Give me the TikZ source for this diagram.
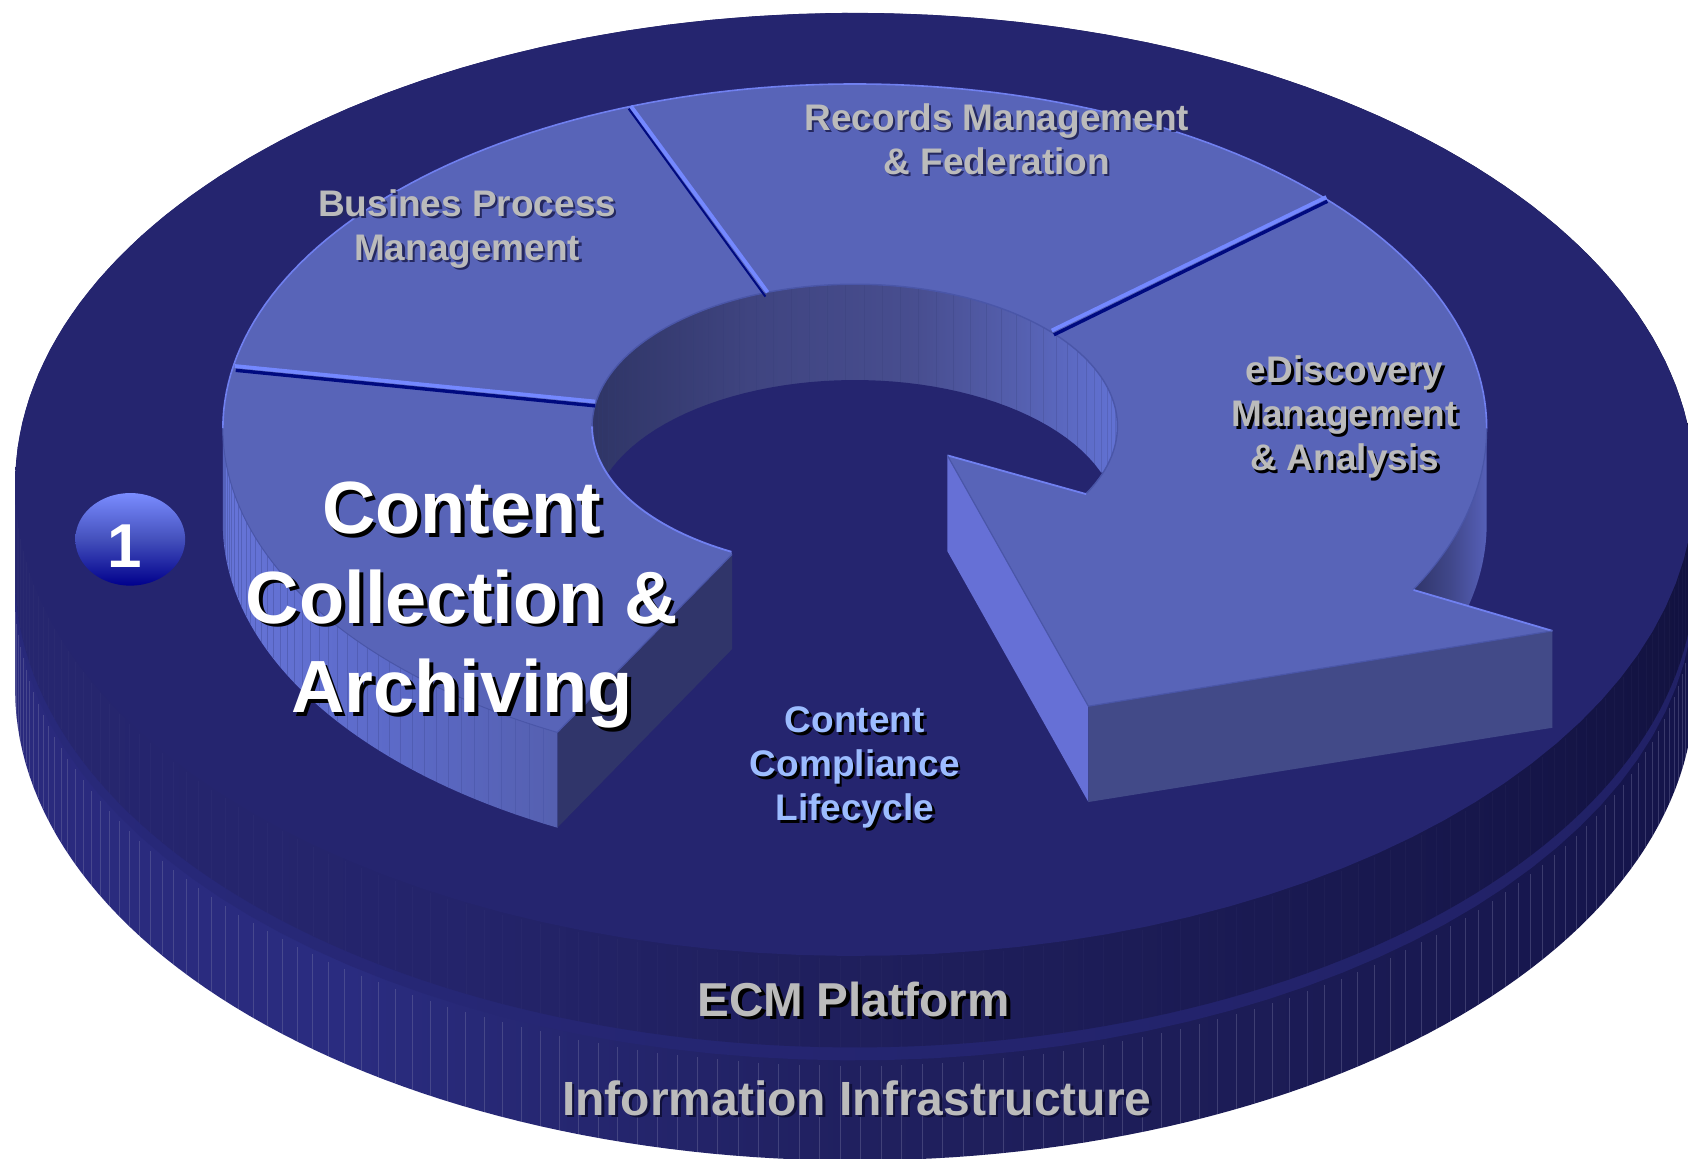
\documentclass[tikz,border=0pt]{standalone}
\usepackage{fontspec}
\setmainfont{Liberation Sans}
\definecolor{disk}{HTML}{25256F}
\definecolor{ringtop}{HTML}{5864B8}
\definecolor{ringhi}{HTML}{7080F0}
\definecolor{ringlo}{HTML}{4A56A8}
\definecolor{sepdark}{HTML}{000A80}
\definecolor{sepfore}{HTML}{7488FF}
\definecolor{labelgray}{HTML}{BBBBBB}
\definecolor{labelblue}{HTML}{9CBCFF}
\definecolor{tailcut}{HTML}{30356A}
\definecolor{headleft}{HTML}{6670D6}
\definecolor{headfront}{HTML}{424A88}
\definecolor{shadowdark}{HTML}{10103A}
\definecolor{sa}{HTML}{2A2A7D}\definecolor{sb}{HTML}{2A2C80}\definecolor{sc}{HTML}{25266F}\definecolor{sd}{HTML}{20205F}\definecolor{se}{HTML}{1C1C56}\definecolor{sf}{HTML}{14144A}
\definecolor{ea}{HTML}{26266F}\definecolor{eb}{HTML}{24246B}\definecolor{ec}{HTML}{20205F}\definecolor{ed}{HTML}{1C1C56}\definecolor{ee}{HTML}{17174C}\definecolor{ef}{HTML}{121240}
\definecolor{ta}{HTML}{6674D8}\definecolor{tb}{HTML}{5C6AC8}\definecolor{tc}{HTML}{5560B0}
\definecolor{ia}{HTML}{2F3566}\definecolor{ib}{HTML}{3F4480}\definecolor{ic}{HTML}{484E90}\definecolor{id}{HTML}{5560B0}\definecolor{ie}{HTML}{6272D4}
\definecolor{ra}{HTML}{30356A}\definecolor{rb}{HTML}{40478A}\definecolor{rc}{HTML}{5660B8}
\definecolor{ba}{HTML}{00008C}\definecolor{bb}{HTML}{4450BC}\definecolor{bc}{HTML}{7A8CFF}
\definecolor{rl}{HTML}{28297A}\definecolor{rr}{HTML}{212166}
\pgfdeclarehorizontalshading{slablow}{100bp}{color(0bp)=(sa);color(25bp)=(sa);color(35bp)=(sb);color(42bp)=(sc);color(50bp)=(sd);color(62bp)=(se);color(75bp)=(sf);color(100bp)=(sf)}
\pgfdeclarehorizontalshading{slabecm}{100bp}{color(0bp)=(ea);color(25bp)=(ea);color(38bp)=(eb);color(47bp)=(ec);color(58bp)=(ed);color(68bp)=(ee);color(75bp)=(ef);color(100bp)=(ef)}
\pgfdeclarehorizontalshading{rimfill}{100bp}{color(0bp)=(rl);color(25bp)=(rl);color(75bp)=(rr);color(100bp)=(rr)}
\pgfdeclarehorizontalshading{tailwall}{100bp}{color(0bp)=(ta);color(25bp)=(ta);color(50bp)=(tb);color(75bp)=(tc);color(100bp)=(tc)}
\pgfdeclarehorizontalshading{innerwall}{100bp}{color(0bp)=(ia);color(25bp)=(ia);color(40bp)=(ib);color(56bp)=(ic);color(66bp)=(id);color(75bp)=(ie);color(100bp)=(ie)}
\pgfdeclarehorizontalshading{rightwall}{100bp}{color(0bp)=(ra);color(25bp)=(ra);color(50bp)=(rb);color(75bp)=(rc);color(100bp)=(rc)}
\pgfdeclareverticalshading{badgefill}{100bp}{color(0bp)=(ba);color(25bp)=(ba);color(50bp)=(bb);color(75bp)=(bc);color(100bp)=(bc)}
\newcommand{\earc}[6]{plot[domain=#5:#6,samples=120,variable=\vv] ({#1+#3*cos(\vv)},{#2+#4*sin(\vv)})}
\newcommand{\learc}[6]{-- plot[domain=#5:#6,samples=120,variable=\vv] ({#1+#3*cos(\vv)},{#2+#4*sin(\vv)})}
\newcommand{\shtext}[9]{%
  \node[labeltext,text=#5,font={\fontsize{#7}{#8}\selectfont\bfseries}] (#1-shadow) at ({#2+#6},{#3+#6}) {#9};
  \node[labeltext,text=#4,font={\fontsize{#7}{#8}\selectfont\bfseries}] (#1) at (#2,#3) {#9};}
\tikzset{labeltext/.style={align=center,inner sep=0pt,outer sep=0pt}}
\begin{document}
\begin{tikzpicture}[x=0.53827pt,y=-0.53827pt,line join=round]
\useasboundingbox (0,0) rectangle (1568,1075.7);
\clip (0,0) rectangle (1568,1075.7);
% lower slab
\shade[shading=slablow] \earc{794}{640}{780}{438}{180}{0} \learc{794}{545}{780}{438}{0}{-180} -- cycle;
\foreach \ang in {1.4,2.8,...,179}
  \draw[line width=.3pt,color=white!45!disk,opacity=.32] ({794+780*cos(\ang)},{552+438*sin(\ang)}) -- ({794+780*cos(\ang)},{640+438*sin(\ang)});
\shade[shading=rimfill] \earc{794}{547}{780}{438}{0}{360} -- cycle;
% ECM slab
\shade[shading=slabecm] \earc{794}{535}{780}{438}{180}{0} \learc{794}{450}{780}{438}{0}{-180} -- cycle;
\foreach \ang in {1.4,2.8,...,179}
  \draw[line width=.25pt,color=white!40!disk,opacity=.05] ({794+780*cos(\ang)},{452+438*sin(\ang)}) -- ({794+780*cos(\ang)},{535+438*sin(\ang)});
% top of platform
\fill[disk] \earc{794}{450}{780}{438}{0}{360} -- cycle;
% inner wall and floor of the hole
\shade[shading=innerwall] \earc{794}{396}{244}{132}{161}{379} -- cycle;
\foreach \ang in {184,188,...,356}
  \draw[line width=.25pt,color=ringlo!70!black,opacity=.22] ({794+244*cos(\ang)},{396+132*sin(\ang)}) -- ({794+244*cos(\ang)},{485+132*sin(\ang)});
\begin{scope}
  \clip \earc{794}{396}{244}{132}{0}{360} -- cycle;
  \fill[disk] \earc{794}{485}{244}{132}{0}{360} -- cycle;
\end{scope}
% tail outer wall and cut face
\shade[shading=tailwall] \earc{794}{398}{587}{320}{180}{118.05} \learc{794}{486.5}{587}{320}{118.05}{180} -- cycle;
\foreach \ang in {119.5,121,...,179}
  \draw[line width=.25pt,color=ringlo,opacity=.6] ({794+587*cos(\ang)},{398+320*sin(\ang)}) -- ({794+587*cos(\ang)},{486.5+320*sin(\ang)});
\fill[tailcut] (680,515) -- (680,603) -- (518,768.5) -- (518,680) -- cycle;
% wall behind the arrow head
\shade[shading=rightwall] \earc{794}{398}{587}{320}{27.9}{0} \learc{794}{486.5}{587}{320}{0}{27.9} -- cycle;
% arrow head faces
\fill[headleft] (880,423) -- (1011,656) -- (1011,745) -- (880,512) -- cycle;
\fill[headfront] (1011,656) -- (1442,586) -- (1442,676) -- (1011,745) -- cycle;
% top of the ring with arrow head
\fill[ringtop] (680,515) \learc{794}{396}{244}{132}{118}{388.4} -- (880,423) -- (1011,656) -- (1442,586) -- (1313,548) \learc{794}{398}{587}{320}{27.9}{-241.95} -- cycle;
% edges
\draw[ringlo,line width=.7pt] \earc{794}{396}{244}{132}{180}{388.4};
\draw[ringhi,line width=.9pt] \earc{794}{396}{244}{132}{118}{180};
\draw[ringlo,line width=.6pt] \earc{794}{398}{587}{320}{27.9}{0};
\draw[ringhi,line width=.8pt] \earc{794}{398}{587}{320}{0}{-180};
\draw[ringlo,line width=.5pt] \earc{794}{398}{587}{320}{118.05}{180};
\draw[ringlo,line width=.6pt] (680,515) -- (518,680);
\draw[ringhi,line width=.9pt] (880,423) -- (1009,459);
\draw[ringhi,line width=.9pt] (1313,548) -- (1442,586);
\draw[ringlo,line width=.6pt] (880,423) -- (1011,656) -- (1442,586);
% separators
\draw[sepdark,line width=1.7pt] (219,344) -- (553,377);
\draw[sepfore,line width=1.9pt] (218,340) -- (553,373);
\draw[sepdark,line width=1pt] (584,101) -- (711,275.5);
\draw[sepfore,line width=1.9pt] (586,98.5) -- (713,271.5);
\draw[sepdark,line width=1.7pt] (1233,187) -- (979,311);
\draw[sepfore,line width=1.9pt] (1232,183) -- (977,307);
% badge
\shade[shading=badgefill] \earc{121}{501}{51}{43}{0}{360} -- cycle;
\node[labeltext,text=white,font={\fontsize{31}{31}\selectfont\bfseries}] (badge) at (116,507) {1};
% labels
\shtext{main}{429}{562}{white}{black}{3.5}{37}{44.7}{Content\\Collection \&\\Archiving}
\shtext{records}{926}{129}{labelgray}{shadowdark!70!ringtop}{2}{18.5}{22}{Records Management\\\& Federation}
\shtext{bpm}{434}{213}{labelgray}{shadowdark!70!ringtop}{2}{18.5}{22}{Busines Process\\Management}
\shtext{ediscovery}{1249}{387.5}{labelgray}{black}{2.5}{18.5}{22}{eDiscovery\\Management\\\& Analysis}
\shtext{compliance}{794}{713}{labelblue}{black}{2.5}{18.5}{22}{Content\\Compliance\\Lifecycle}
\shtext{ecm}{793}{928}{labelgray}{black}{3.5}{23.8}{28}{ECM Platform}
\shtext{infra}{796}{1020}{labelgray}{shadowdark}{2.5}{24}{30}{Information Infrastructure}
\end{tikzpicture}
\end{document}
